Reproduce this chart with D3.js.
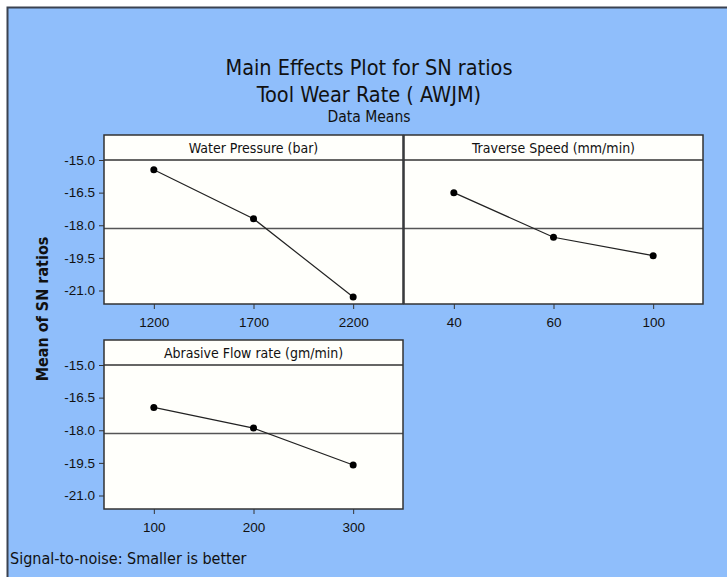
<!DOCTYPE html>
<html>
<head>
<meta charset="utf-8">
<script src="https://cdn.jsdelivr.net/npm/d3@7"></script>
<style>
  body { margin: 0; background: #fff; }
  svg { display: block; font-family: "DejaVu Sans Condensed", "DejaVu Sans", sans-serif; font-stretch: condensed; }
</style>
</head>
<body>
<script>
// data
var factorNames = ["Water Pressure (bar)", "Traverse Speed (mm/min)", "Abrasive Flow rate (gm/min)"];
var waterLevels = ["1200", "1700", "2200"];
var waterSN = [-15.45, -17.7, -21.3];
var speedLevels = ["40", "60", "100"];
var speedSN = [-16.5, -18.55, -19.4];
var flowLevels = ["100", "200", "300"];
var flowSN = [-16.95, -17.9, -19.6];
var yTicks = [-15.0, -16.5, -18.0, -19.5, -21.0];

var W = 727, H = 577;
var svg = d3.select("body").append("svg").attr("width", W).attr("height", H);

// blue frame
svg.append("rect").attr("x", 7).attr("y", 7).attr("width", W).attr("height", H)
    .attr("fill", "#8fbefb");
svg.append("path").attr("d", "M7.5," + H + "V7.5H" + W)
    .attr("fill", "none").attr("stroke", "#3b4250").attr("stroke-width", 2);

// titles
var titles = [
  {t: "Main Effects Plot for SN ratios", y: 75, s: 21.5},
  {t: "Tool Wear Rate ( AWJM)", y: 102, s: 21.5},
  {t: "Data Means", y: 122, s: 15.5}
];
svg.selectAll("text.title").data(titles).enter().append("text")
    .attr("class", "title")
    .attr("x", 369).attr("y", function (d) { return d.y; })
    .attr("text-anchor", "middle")
    .attr("font-size", function (d) { return d.s; })
    .attr("fill", "#111")
    .text(function (d) { return d.t; });

var allSN = waterSN.concat(speedSN, flowSN);
var grandMean = d3.mean(allSN);

var panels = [
  {name: factorNames[0], levels: waterLevels, vals: waterSN, x: 104, top: 135, left: true},
  {name: factorNames[1], levels: speedLevels, vals: speedSN, x: 404, top: 135, left: false},
  {name: factorNames[2], levels: flowLevels, vals: flowSN, x: 104, top: 340, left: true}
];
var pw = 299, headH = 25, ph = 144;

panels.forEach(function (p) {
  var g = svg.append("g");
  var y0 = p.top + headH;
  var x = d3.scalePoint().domain(p.levels).range([p.x, p.x + pw]).padding(0.5);
  var y = d3.scaleLinear().domain([-21.62, -15.0]).range([y0 + ph, y0]);

  g.append("rect").attr("x", p.x).attr("y", p.top).attr("width", pw).attr("height", headH + ph)
      .attr("fill", "#fffffb");

  // mean reference line
  g.append("line")
      .attr("x1", p.x).attr("x2", p.x + pw)
      .attr("y1", y(grandMean)).attr("y2", y(grandMean))
      .attr("stroke", "#555").attr("stroke-width", 1.5);

  // header strip
  g.append("line").attr("x1", p.x).attr("x2", p.x + pw).attr("y1", y0).attr("y2", y0)
      .attr("stroke", "#333").attr("stroke-width", 1.5);
  g.append("text").attr("x", p.x + pw / 2).attr("y", p.top + 18)
      .attr("text-anchor", "middle").attr("font-size", 14).attr("fill", "#111")
      .text(p.name);

  g.append("rect").attr("x", p.x).attr("y", p.top).attr("width", pw).attr("height", headH + ph)
      .attr("fill", "none").attr("stroke", "#333").attr("stroke-width", 1.5);

  // x axis
  var xa = g.append("g").attr("transform", "translate(0," + (y0 + ph) + ")")
      .call(d3.axisBottom(x).tickSize(5).tickPadding(8));
  xa.select(".domain").remove();
  xa.selectAll("line").attr("stroke", "#333");
  xa.selectAll("text").attr("font-size", 13.5).attr("fill", "#111").attr("font-family", null);

  if (p.left) {
    var ya = g.append("g").attr("transform", "translate(" + p.x + ",0)")
        .call(d3.axisLeft(y).tickValues(yTicks).tickFormat(d3.format(".1f")).tickSize(5).tickPadding(4));
    ya.select(".domain").remove();
    ya.selectAll("line").attr("stroke", "#333");
    ya.selectAll("text").attr("font-size", 13.5).attr("fill", "#111").attr("font-family", null)
        .text(function (d) { return d3.format(".1f")(d).replace("−", "-"); });
  }

  var pts = p.levels.map(function (l, i) { return {l: l, v: p.vals[i]}; });
  g.append("path").datum(pts)
      .attr("d", d3.line().x(function (d) { return x(d.l); }).y(function (d) { return y(d.v); }))
      .attr("fill", "none").attr("stroke", "#222").attr("stroke-width", 1.2);
  g.selectAll("circle").data(pts).enter().append("circle")
      .attr("cx", function (d) { return x(d.l); })
      .attr("cy", function (d) { return y(d.v); })
      .attr("r", 3.5).attr("fill", "#000");
});

// y axis title
svg.append("text")
    .attr("transform", "translate(48,309) rotate(-90)")
    .attr("text-anchor", "middle")
    .attr("font-family", "DejaVu Sans, sans-serif")
    .attr("font-weight", "bold").attr("font-size", 16).attr("fill", "#111")
    .text("Mean of SN ratios");

svg.append("text").attr("x", 10).attr("y", 564)
    .attr("font-family", "DejaVu Sans, sans-serif")
    .attr("font-size", 16).attr("fill", "#111")
    .text("Signal-to-noise: Smaller is better");
</script>
</body>
</html>
